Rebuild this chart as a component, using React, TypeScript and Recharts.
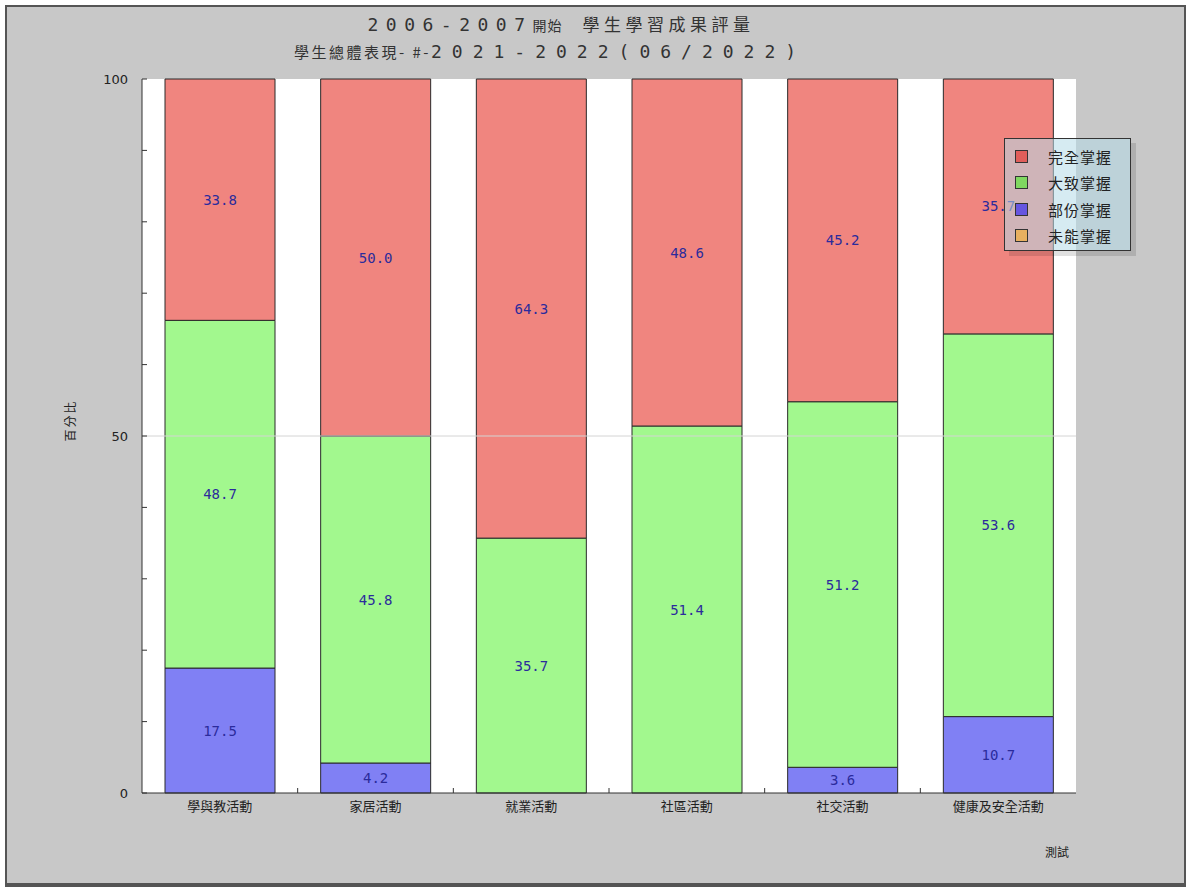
import { BarChart, Bar, XAxis, YAxis, CartesianGrid, ReferenceLine, LabelList, Legend } from "recharts"

const categories = ["學與教活動", "家居活動", "就業活動", "社區活動", "社交活動", "健康及安全活動"]
const fullMastery = [33.8, 50.0, 64.3, 48.6, 45.2, 35.7]
const mostlyMastery = [48.7, 45.8, 35.7, 51.4, 51.2, 53.6]
const partialMastery = [17.5, 4.2, 0, 0, 3.6, 10.7]
const noMastery = [0, 0, 0, 0, 0, 0]
const yTicks = [0, 10, 20, 30, 40, 50, 60, 70, 80, 90, 100]
const yTickLabels = [0, 50, 100]

const SERIES = [
  { key: "full", name: "完全掌握", fill: "#f0857f", marker: "#e05e5a" },
  { key: "mostly", name: "大致掌握", fill: "#a2f88e", marker: "#80d860" },
  { key: "partial", name: "部份掌握", fill: "#8080f4", marker: "#6656e0" },
  { key: "none", name: "未能掌握", fill: "#f0b060", marker: "#e8b060" },
]

const data = categories.map((name, i) => ({
  name,
  full: fullMastery[i],
  mostly: mostlyMastery[i],
  partial: partialMastery[i],
  none: noMastery[i],
}))

const CJK = "'Noto Sans CJK TC', 'Noto Sans', sans-serif"

function YTick(props: any) {
  const { x, y, payload } = props
  return (
    <g>
      <line x1={x} x2={x + 5} y1={y} y2={y} stroke="#333" />
      {yTickLabels.includes(payload.value) && (
        <text x={x - 14} y={y + 5} textAnchor="end" fontSize={13} fill="#222" fontFamily="'DejaVu Sans', sans-serif">
          {payload.value}
        </text>
      )}
    </g>
  )
}

function XTick(props: any) {
  const { x, y, payload, index, visibleTicksCount } = props
  const half = payload.offset ?? 78
  return (
    <g>
      {index < visibleTicksCount - 1 && (
        <line x1={x + half} x2={x + half} y1={y} y2={y - 5} stroke="#333" />
      )}
      <text x={x} y={y + 18} textAnchor="middle" fontSize={13} fill="#222" fontFamily={CJK}>
        {payload.value}
      </text>
    </g>
  )
}

function SegmentLabel(props: any) {
  const { x, y, width, height, value } = props
  if (!value) return null
  return (
    <text
      x={x + width / 2}
      y={y + height / 2 + 5}
      textAnchor="middle"
      fontSize={14}
      fill="#2b2b9c"
      fontFamily="'DejaVu Sans Mono', monospace"
    >
      {value.toFixed(1)}
    </text>
  )
}

function LegendBox() {
  return (
    <div
      style={{
        width: 127,
        height: 113,
        border: "1px solid #333",
        background: "rgba(180,218,232,0.55)",
        boxShadow: "5px 5px 0 rgba(0,0,0,0.12)",
        paddingTop: 4,
        boxSizing: "border-box",
      }}
    >
      {SERIES.map(s => (
        <div key={s.key} style={{ display: "flex", alignItems: "center", height: 26.5 }}>
          <span
            style={{
              display: "inline-block",
              width: 11,
              height: 11,
              marginLeft: 10,
              border: "1px solid #333",
              background: s.marker,
            }}
          />
          <span style={{ marginLeft: 20, fontSize: 15, color: "#222", fontFamily: CJK, letterSpacing: 1 }}>
            {s.name}
          </span>
        </div>
      ))}
    </div>
  )
}

export default function App() {
  return (
    <div style={{ position: "absolute", left: 0, top: 0, width: 1192, height: 890, background: "#fff" }}>
      <div
        style={{
          position: "absolute",
          left: 5,
          top: 5,
          width: 1181,
          height: 882,
          boxSizing: "border-box",
          border: "2px solid #555",
          borderBottomWidth: 4,
          background: "#c8c8c8",
        }}
      />
      <div
        style={{
          position: "absolute",
          left: 0,
          width: 1122,
          top: 11,
          textAlign: "center",
          color: "#333",
          fontSize: 18,
          whiteSpace: "pre",
        }}
      >
        <span style={{ fontFamily: "'DejaVu Sans Mono', monospace", letterSpacing: 7.5 }}>2006-2007</span>
        <span style={{ fontFamily: CJK, fontSize: 14, letterSpacing: 1 }}>開始</span>
        <span style={{ display: "inline-block", width: 20 }} />
        <span style={{ fontFamily: CJK, fontSize: 17, letterSpacing: 4.5 }}>學生學習成果評量</span>
      </div>
      <div
        style={{
          position: "absolute",
          left: 0,
          width: 1100,
          top: 41,
          textAlign: "center",
          color: "#333",
          fontSize: 18,
          whiteSpace: "pre",
        }}
      >
        <span style={{ fontFamily: CJK, fontSize: 15, letterSpacing: 2.5 }}>學生總體表現- #-</span>
        <span style={{ fontFamily: "'DejaVu Sans Mono', monospace", letterSpacing: 10 }}>2021-2022(06/2022)</span>
      </div>
      <div
        style={{
          position: "absolute",
          left: 47,
          top: 412,
          width: 44,
          textAlign: "center",
          transform: "rotate(-90deg)",
          fontSize: 12,
          letterSpacing: 2,
          color: "#222",
          fontFamily: CJK,
        }}
      >
        百分比
      </div>
      <div
        style={{
          position: "absolute",
          left: 1045,
          top: 843,
          fontSize: 12,
          color: "#222",
          fontFamily: CJK,
        }}
      >
        測試
      </div>
      <div style={{ position: "absolute", left: 0, top: 0 }}>
        <BarChart
          width={1192}
          height={890}
          data={data}
          margin={{ top: 79, right: 116, left: 42, bottom: 67 }}
          barSize={110}
        >
          <CartesianGrid fill="#fff" horizontal={false} vertical={false} />
          <ReferenceLine y={50} stroke="#d4d4d4" />
          <XAxis
            dataKey="name"
            height={30}
            tickSize={0}
            tickMargin={0}
            axisLine={{ stroke: "#333" }}
            tickLine={false}
            tick={<XTick />}
            interval={0}
          />
          <YAxis
            width={100}
            domain={[0, 100]}
            ticks={yTicks}
            interval={0}
            tickSize={0}
            tickMargin={0}
            axisLine={{ stroke: "#333" }}
            tickLine={false}
            tick={<YTick />}
          />
          <Legend
            verticalAlign="middle"
            align="center"
            wrapperStyle={{ position: "absolute", left: 1004, top: 138, width: 127, height: 113 }}
            content={() => <LegendBox />}
          />
          <Bar dataKey="partial" name="部份掌握" stackId="a" fill="#8080f4" stroke="#2a2a2a" isAnimationActive={false}>
            <LabelList dataKey="partial" content={<SegmentLabel />} />
          </Bar>
          <Bar dataKey="mostly" name="大致掌握" stackId="a" fill="#a2f88e" stroke="#2a2a2a" isAnimationActive={false}>
            <LabelList dataKey="mostly" content={<SegmentLabel />} />
          </Bar>
          <Bar dataKey="full" name="完全掌握" stackId="a" fill="#f0857f" stroke="#2a2a2a" isAnimationActive={false}>
            <LabelList dataKey="full" content={<SegmentLabel />} />
          </Bar>
          <Bar dataKey="none" name="未能掌握" stackId="a" fill="#f0b060" stroke="#2a2a2a" isAnimationActive={false}>
            <LabelList dataKey="none" content={<SegmentLabel />} />
          </Bar>
        </BarChart>
      </div>
    </div>
  )
}
